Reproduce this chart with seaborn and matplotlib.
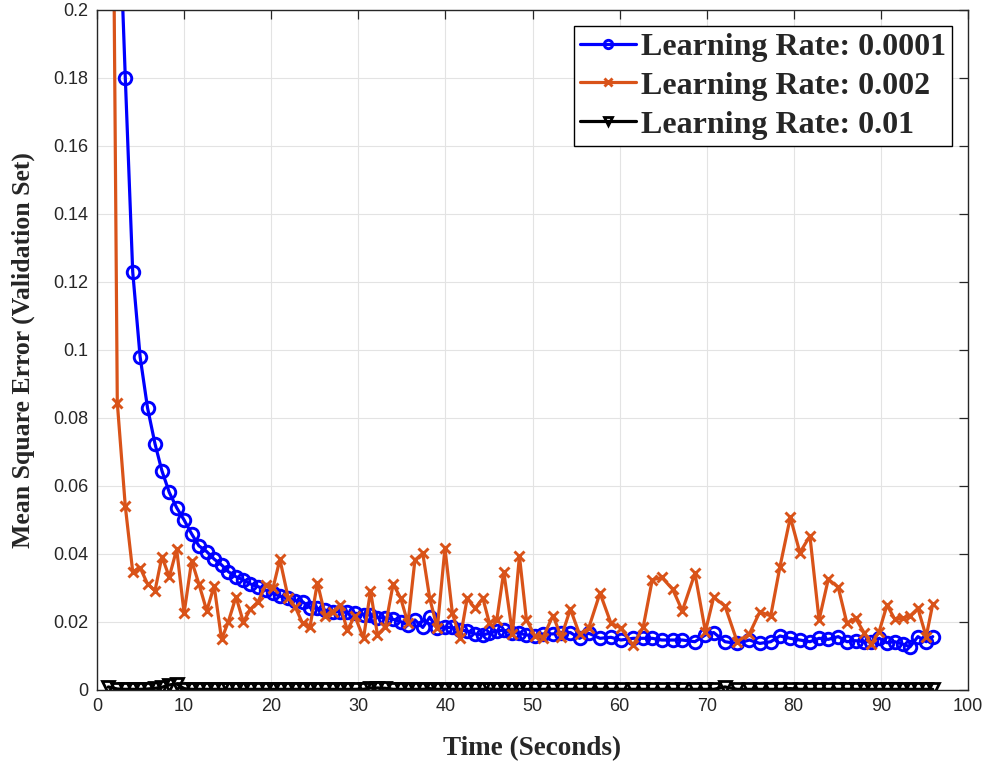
import numpy as np
import pandas as pd
import matplotlib
matplotlib.use("Agg")
import matplotlib.pyplot as plt
import seaborn as sns

# Elapsed training time (seconds) at each validation check
time_s = [
    1.3, 2.33, 3.25, 4.1, 4.95, 5.8, 6.66, 7.45, 8.3, 9.15,
    10.0, 10.87, 11.7, 12.6, 13.45, 14.3, 15.08, 15.96, 16.8, 17.6,
    18.5, 19.35, 20.2, 21.0, 21.96, 22.75, 23.6, 24.45, 25.3, 26.2,
    27.06, 27.9, 28.74, 29.6, 30.6, 31.4, 32.2, 33.1, 34.0, 34.87,
    35.7, 36.5, 37.4, 38.2, 39.07, 39.95, 40.8, 41.7, 42.5, 43.4,
    44.3, 45.04, 45.9, 46.7, 47.7, 48.5, 49.3, 50.3, 51.2, 52.35,
    53.3, 54.35, 55.4, 56.45, 57.75, 59.0, 60.15, 61.55, 62.7, 63.75,
    64.85, 66.1, 67.2, 68.65, 69.85, 70.8, 72.1, 73.5, 74.9, 76.1,
    77.35, 78.4, 79.6, 80.7, 81.85, 82.9, 83.96, 85.1, 86.1, 87.1,
    88.06, 88.9, 89.8, 90.7, 91.6, 92.5, 93.35, 94.25, 95.2, 95.95,
]

mse_lr_0001 = [
    0.600, 0.245, 0.180, 0.123, 0.098, 0.083, 0.0724, 0.0645, 0.0581, 0.0536,
    0.0500, 0.0459, 0.0424, 0.0407, 0.0385, 0.0368, 0.0348, 0.0333, 0.0324, 0.0312,
    0.0304, 0.0294, 0.0284, 0.0276, 0.0270, 0.0263, 0.0260, 0.0242, 0.0240, 0.0235,
    0.0230, 0.0230, 0.0228, 0.0226, 0.0222, 0.0220, 0.0213, 0.0212, 0.0208, 0.0201,
    0.0191, 0.0206, 0.0184, 0.0214, 0.0181, 0.0184, 0.0184, 0.0176, 0.0174, 0.0165,
    0.0162, 0.0167, 0.0174, 0.0176, 0.0169, 0.0167, 0.0162, 0.0159, 0.0165, 0.0165,
    0.0169, 0.0169, 0.0152, 0.0167, 0.0152, 0.0155, 0.0147, 0.0152, 0.0152, 0.0152,
    0.0147, 0.0147, 0.0147, 0.0142, 0.0162, 0.0169, 0.0142, 0.0137, 0.0147, 0.0137,
    0.0142, 0.0159, 0.0152, 0.0147, 0.0142, 0.0152, 0.0149, 0.0157, 0.0142, 0.0145,
    0.0142, 0.0142, 0.0152, 0.0139, 0.0142, 0.0135, 0.0127, 0.0157, 0.0142, 0.0157,
]

mse_lr_002 = [
    0.420, 0.0845, 0.0540, 0.0348, 0.0360, 0.0312, 0.0292, 0.0392, 0.0333, 0.0414,
    0.0226, 0.0380, 0.0312, 0.0233, 0.0306, 0.0149, 0.0201, 0.0274, 0.0200, 0.0237,
    0.0260, 0.0309, 0.0299, 0.0384, 0.0270, 0.0245, 0.0196, 0.0184, 0.0316, 0.0218,
    0.0230, 0.0250, 0.0176, 0.0218, 0.0152, 0.0292, 0.0162, 0.0186, 0.0312, 0.0270,
    0.0196, 0.0382, 0.0402, 0.0270, 0.0181, 0.0417, 0.0226, 0.0152, 0.0270, 0.0240,
    0.0270, 0.0198, 0.0206, 0.0348, 0.0165, 0.0394, 0.0207, 0.0158, 0.0154, 0.0219,
    0.0156, 0.0238, 0.0164, 0.0182, 0.0285, 0.0197, 0.0182, 0.0132, 0.0184, 0.0324,
    0.0331, 0.0296, 0.0233, 0.0343, 0.0172, 0.0273, 0.0247, 0.0142, 0.0165, 0.0230,
    0.0218, 0.0361, 0.0508, 0.0404, 0.0453, 0.0206, 0.0326, 0.0302, 0.0196, 0.0211,
    0.0169, 0.0135, 0.0172, 0.0250, 0.0208, 0.0211, 0.0218, 0.0240, 0.0157, 0.0253,
]

mse_lr_01 = [
    0.0009, 0.0003, 0.0002, 0.0002, 0.0002, 0.0003, 0.0005, 0.0008, 0.0015, 0.0018,
    0.0004, 0.0002, 0.0002, 0.0002, 0.0002, 0.0002, 0.0002, 0.0002, 0.0002, 0.0002,
    0.0002, 0.0002, 0.0002, 0.0002, 0.0002, 0.0002, 0.0002, 0.0002, 0.0002, 0.0002,
    0.0002, 0.0002, 0.0002, 0.0002, 0.0002, 0.0006, 0.0006, 0.0005, 0.0002, 0.0002,
    0.0002, 0.0002, 0.0002, 0.0004, 0.0002, 0.0002, 0.0002, 0.0002, 0.0002, 0.0002,
    0.0002, 0.0003, 0.0002, 0.0002, 0.0002, 0.0002, 0.0002, 0.0002, 0.0002, 0.0002,
    0.0002, 0.0002, 0.0002, 0.0002, 0.0002, 0.0002, 0.0002, 0.0002, 0.0002, 0.0002,
    0.0002, 0.0002, 0.0002, 0.0002, 0.0002, 0.0002, 0.0009, 0.0002, 0.0002, 0.0002,
    0.0002, 0.0002, 0.0004, 0.0002, 0.0002, 0.0002, 0.0002, 0.0002, 0.0002, 0.0002,
    0.0002, 0.0002, 0.0002, 0.0002, 0.0002, 0.0002, 0.0002, 0.0002, 0.0002, 0.0002,
]

series_labels = ["Learning Rate: 0.0001", "Learning Rate: 0.002", "Learning Rate: 0.01"]
series_values = [mse_lr_0001, mse_lr_002, mse_lr_01]

x_ticks = [0, 10, 20, 30, 40, 50, 60, 70, 80, 90, 100]
y_ticks = [0, 0.02, 0.04, 0.06, 0.08, 0.1, 0.12, 0.14, 0.16, 0.18, 0.2]
y_tick_labels = ["0", "0.02", "0.04", "0.06", "0.08", "0.1", "0.12", "0.14", "0.16", "0.18", "0.2"]

df = pd.DataFrame({
    "time": np.tile(time_s, len(series_labels)),
    "mse": np.concatenate(series_values),
    "rate": np.repeat(series_labels, len(time_s)),
})

sns.set_style("white")
plt.rcParams["font.family"] = ["Liberation Sans", "DejaVu Sans"]

axis_gray = "#262626"
styles = {
    series_labels[0]: dict(color="#0000ff", marker="o", markersize=9, mew=2.1),
    series_labels[1]: dict(color="#d95319", marker="x", markersize=6.5, mew=2.1),
    series_labels[2]: dict(color="#000000", marker="v", markersize=9, mew=2.0),
}

fig = plt.figure(figsize=(9.92, 7.63), dpi=100)
ax = fig.add_axes([97 / 992, 1 - 690 / 763, 871 / 992, 680 / 763])

for label in series_labels:
    st = styles[label]
    sns.lineplot(
        data=df[df["rate"] == label], x="time", y="mse",
        ax=ax, color=st["color"], marker=st["marker"],
        markersize=st["markersize"], markeredgewidth=st["mew"],
        markerfacecolor="none", markeredgecolor=st["color"],
        linewidth=2.3, label=label, sort=False, estimator=None,
        clip_on=True,
    )

ax.set_xlim(0, 100)
ax.set_ylim(0, 0.2)
ax.set_xticks(x_ticks)
ax.set_xticklabels([str(v) for v in x_ticks])
ax.set_yticks(y_ticks)
ax.set_yticklabels(y_tick_labels)

ax.grid(True, color="#e3e3e3", linewidth=0.8)
ax.set_axisbelow(True)
for sp in ax.spines.values():
    sp.set_visible(True)
    sp.set_color(axis_gray)
    sp.set_linewidth(1.0)
ax.tick_params(axis="both", which="both", direction="in", length=6.5, width=0.9,
               colors=axis_gray, labelsize=13, top=True, right=True,
               labelcolor=axis_gray, pad=6)

ax.set_xlabel("Time (Seconds)", labelpad=15, family="Liberation Serif",
              weight="bold", size=19.5, color=axis_gray)
ax.set_ylabel("Mean Square Error (Validation Set)", labelpad=13, family="Liberation Serif",
              weight="bold", size=18.5, color=axis_gray)

leg = ax.legend(
    loc="upper right", bbox_to_anchor=(0.9816, 0.9765), borderaxespad=0,
    prop=dict(family="Liberation Serif", weight="bold", size=23),
    frameon=True, fancybox=False, framealpha=1, edgecolor="#000000",
    handlelength=1.75, handletextpad=0.15, labelspacing=0.3, borderpad=0.2,
    numpoints=1,
)
leg.get_frame().set_linewidth(1.0)
for h in leg.legend_handles:
    h.set_markersize(6)

fig.savefig("out.png", dpi=100)
